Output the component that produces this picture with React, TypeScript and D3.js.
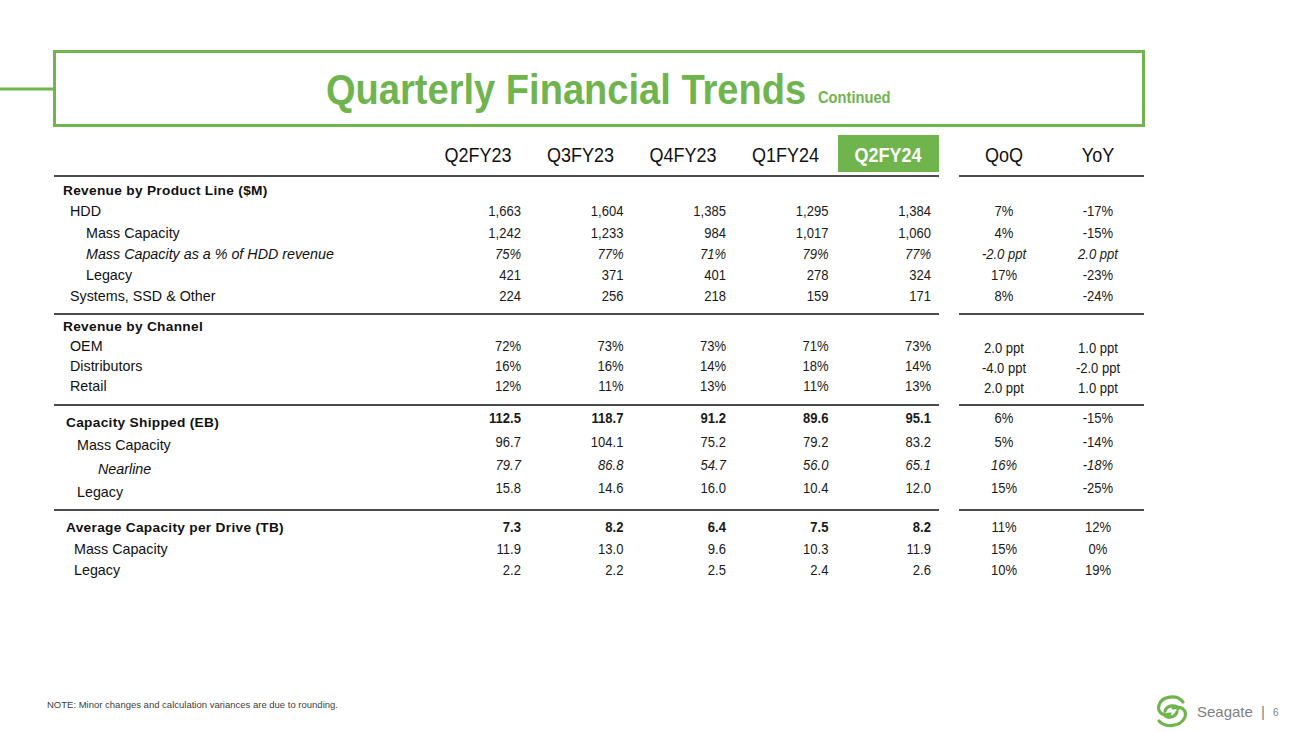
import React from "react";
import * as d3 from "d3";

// ---------- DATA ----------
const quarters = ["Q2FY23", "Q3FY23", "Q4FY23", "Q1FY24", "Q2FY24"];
const changeHeaders = ["QoQ", "YoY"];
const highlightQuarter = "Q2FY24";

// Revenue by Product Line ($M)
const hddRevenue = [1663, 1604, 1385, 1295, 1384];
const hddRevenueChange = [7, -17];
const massCapRevenue = [1242, 1233, 984, 1017, 1060];
const massCapRevenueChange = [4, -15];
const massCapShare = [75, 77, 71, 79, 77];
const massCapShareChange = [-2.0, 2.0];
const legacyRevenue = [421, 371, 401, 278, 324];
const legacyRevenueChange = [17, -23];
const systemsRevenue = [224, 256, 218, 159, 171];
const systemsRevenueChange = [8, -24];

// Revenue by Channel (%)
const oemShare = [72, 73, 73, 71, 73];
const oemShareChange = [2.0, 1.0];
const distributorShare = [16, 16, 14, 18, 14];
const distributorShareChange = [-4.0, -2.0];
const retailShare = [12, 11, 13, 11, 13];
const retailShareChange = [2.0, 1.0];

// Capacity Shipped (EB)
const capacityShipped = [112.5, 118.7, 91.2, 89.6, 95.1];
const capacityShippedChange = [6, -15];
const massCapShipped = [96.7, 104.1, 75.2, 79.2, 83.2];
const massCapShippedChange = [5, -14];
const nearlineShipped = [79.7, 86.8, 54.7, 56.0, 65.1];
const nearlineShippedChange = [16, -18];
const legacyShipped = [15.8, 14.6, 16.0, 10.4, 12.0];
const legacyShippedChange = [15, -25];

// Average Capacity per Drive (TB)
const avgCapacity = [7.3, 8.2, 6.4, 7.5, 8.2];
const avgCapacityChange = [11, 12];
const massCapAvg = [11.9, 13.0, 9.6, 10.3, 11.9];
const massCapAvgChange = [15, 0];
const legacyAvg = [2.2, 2.2, 2.5, 2.4, 2.6];
const legacyAvgChange = [10, 19];

// ---------- FORMATS ----------
const hyphen = (s: string) => s.replace(/\u2212/g, "-");
const fmtInt = (v: number) => hyphen(d3.format(",")(v));
const fmtDec = (v: number) => hyphen(d3.format(".1f")(v));
const fmtPct = (v: number) => `${hyphen(d3.format("d")(v))}%`;
const fmtPpt = (v: number) => `${fmtDec(v)} ppt`;

type Row = {
  label: string;
  values?: number[];
  changes?: number[];
  fmt?: (v: number) => string;
  cfmt?: (v: number) => string;
  level: number; // indentation class
  italic?: boolean;
  bold?: boolean;
};

type Section = { rows: Row[] };

const sections: Section[] = [
  {
    rows: [
      { label: "Revenue by Product Line ($M)", level: 0, bold: true },
      { label: "HDD", values: hddRevenue, changes: hddRevenueChange, fmt: fmtInt, cfmt: fmtPct, level: 1 },
      { label: "Mass Capacity", values: massCapRevenue, changes: massCapRevenueChange, fmt: fmtInt, cfmt: fmtPct, level: 2 },
      { label: "Mass Capacity as a % of HDD revenue", values: massCapShare, changes: massCapShareChange, fmt: fmtPct, cfmt: fmtPpt, level: 2, italic: true },
      { label: "Legacy", values: legacyRevenue, changes: legacyRevenueChange, fmt: fmtInt, cfmt: fmtPct, level: 2 },
      { label: "Systems, SSD & Other", values: systemsRevenue, changes: systemsRevenueChange, fmt: fmtInt, cfmt: fmtPct, level: 1 },
    ],
  },
  {
    rows: [
      { label: "Revenue by Channel", level: 0, bold: true },
      { label: "OEM", values: oemShare, changes: oemShareChange, fmt: fmtPct, cfmt: fmtPpt, level: 1 },
      { label: "Distributors", values: distributorShare, changes: distributorShareChange, fmt: fmtPct, cfmt: fmtPpt, level: 1 },
      { label: "Retail", values: retailShare, changes: retailShareChange, fmt: fmtPct, cfmt: fmtPpt, level: 1 },
    ],
  },
  {
    rows: [
      { label: "Capacity Shipped (EB)", values: capacityShipped, changes: capacityShippedChange, fmt: fmtDec, cfmt: fmtPct, level: 3, bold: true },
      { label: "Mass Capacity", values: massCapShipped, changes: massCapShippedChange, fmt: fmtDec, cfmt: fmtPct, level: 4 },
      { label: "Nearline", values: nearlineShipped, changes: nearlineShippedChange, fmt: fmtDec, cfmt: fmtPct, level: 5, italic: true },
      { label: "Legacy", values: legacyShipped, changes: legacyShippedChange, fmt: fmtDec, cfmt: fmtPct, level: 4 },
    ],
  },
  {
    rows: [
      { label: "Average Capacity per Drive (TB)", values: avgCapacity, changes: avgCapacityChange, fmt: fmtDec, cfmt: fmtPct, level: 3, bold: true },
      { label: "Mass Capacity", values: massCapAvg, changes: massCapAvgChange, fmt: fmtDec, cfmt: fmtPct, level: 6 },
      { label: "Legacy", values: legacyAvg, changes: legacyAvgChange, fmt: fmtDec, cfmt: fmtPct, level: 6 },
    ],
  },
];

// ---------- LAYOUT ----------
const W = 1300;
const H = 732;
const GREEN = "#70b44e";
const FONT = "'Liberation Sans', Arial, Helvetica, sans-serif";
const indentX = [63, 70, 86, 66, 77, 98, 74];
const sectionLayout = [
  { y0: 190, pitch: 21.2, labelDy: 0, changeDy: 0 },
  { y0: 326, pitch: 20, labelDy: 0, changeDy: 2 },
  { y0: 418, pitch: 23.3, labelDy: 4, changeDy: 0 },
  { y0: 527, pitch: 21.5, labelDy: 0, changeDy: 0 },
];
const rulesY = [176, 314, 405, 510];
const SX = 0.9; // horizontal condensing of the numeric text

const colRight = d3.scalePoint<string>().domain(quarters).range([521, 931]);
const chgCenter = d3.scalePoint<string>().domain(changeHeaders).range([1004, 1098]);

function CText(props: {
  x: number;
  y: number;
  anchor: "start" | "middle" | "end";
  size: number;
  children: React.ReactNode;
  weight?: string | number;
  italic?: boolean;
  fill?: string;
  sx?: number;
}) {
  const { x, y, anchor, size, children, weight, italic, fill, sx = SX } = props;
  return (
    <text
      transform={`translate(${x},${y}) scale(${sx},1)`}
      textAnchor={anchor}
      dy="0.36em"
      fontSize={size}
      fontWeight={weight ?? "normal"}
      fontStyle={italic ? "italic" : "normal"}
      fill={fill ?? "#111"}
    >
      {children}
    </text>
  );
}

export default function App() {
  return (
    <svg
      width={W}
      height={H}
      viewBox={`0 0 ${W} ${H}`}
      style={{ position: "absolute", left: 0, top: 0, display: "block", background: "#fff" }}
      fontFamily={FONT}
    >
      <rect x={0} y={0} width={W} height={H} fill="#fff" />

      {/* Title frame */}
      <line x1={0} x2={54} y1={89} y2={89} stroke={GREEN} strokeWidth={3} />
      <rect x={54.5} y={51.5} width={1089} height={74} fill="none" stroke={GREEN} strokeWidth={3} />
      <text transform={`translate(326,104) scale(0.9,1)`} fontSize={42.3} fontWeight="bold" fill={GREEN}>
        Quarterly Financial Trends
      </text>
      <text transform={`translate(818,103) scale(0.9,1)`} fontSize={16.3} fontWeight="bold" fill={GREEN}>
        Continued
      </text>

      {/* Column headers */}
      {quarters.map((q) => {
        const cx = (colRight(q) as number) - 43;
        const hl = q === highlightQuarter;
        return (
          <g key={q}>
            {hl && <rect x={cx - 50} y={135} width={101} height={37} fill={GREEN} />}
            <CText x={cx} y={155} anchor="middle" size={20} weight={hl ? "bold" : "normal"} fill={hl ? "#fff" : "#111"}>
              {q}
            </CText>
          </g>
        );
      })}
      {changeHeaders.map((c) => (
        <CText key={c} x={chgCenter(c) as number} y={155} anchor="middle" size={20}>
          {c}
        </CText>
      ))}

      {/* Horizontal rules */}
      {rulesY.map((y) => (
        <g key={y}>
          <line x1={54} x2={939} y1={y} y2={y} stroke="#111" strokeWidth={1.3} />
          <line x1={959} x2={1144} y1={y} y2={y} stroke="#111" strokeWidth={1.3} />
        </g>
      ))}

      {/* Table body */}
      {sections.map((sec, si) => {
        const lay = sectionLayout[si];
        return (
          <g key={si}>
            {sec.rows.map((r, ri) => {
              const y = lay.y0 + ri * lay.pitch;
              return (
                <g key={ri}>
                  <text
                    x={indentX[r.level]}
                    y={y + lay.labelDy}
                    dy="0.36em"
                    fontSize={r.bold ? 13.7 : 14.3}
                    fontWeight={r.bold ? "bold" : "normal"}
                    fontStyle={r.italic ? "italic" : "normal"}
                    letterSpacing={r.bold ? 0.3 : 0}
                    fill="#111"
                  >
                    {r.label}
                  </text>
                  {r.values &&
                    r.values.map((v, vi) => (
                      <CText
                        key={vi}
                        x={colRight(quarters[vi]) as number}
                        y={y}
                        anchor="end"
                        size={14.5}
                        weight={r.bold ? "bold" : "normal"}
                        italic={r.italic}
                        fill="#1a1a1a"
                      >
                        {r.fmt!(v)}
                      </CText>
                    ))}
                  {r.changes &&
                    r.changes.map((v, ci) => (
                      <CText
                        key={ci}
                        x={chgCenter(changeHeaders[ci]) as number}
                        y={y + lay.changeDy}
                        anchor="middle"
                        size={14.5}
                        italic={r.italic}
                        fill="#1a1a1a"
                      >
                        {r.cfmt!(v)}
                      </CText>
                    ))}
                </g>
              );
            })}
          </g>
        );
      })}

      {/* Footer note */}
      <text x={47} y={705} dy="0.35em" fontSize={9.5} fill="#404040">
        NOTE: Minor changes and calculation variances are due to rounding.
      </text>

      {/* Logo */}
      <g fill="none" stroke={GREEN} strokeWidth={3.2} strokeLinecap="round">
        <path d="M1183,702 C1177,694 1162,696 1159,705 C1157,712 1163,717 1170,714" />
        <path d="M1159,721 C1165,728 1181,727 1185,717 C1187,710 1181,705 1173,708" />
        <path d="M1165,711 C1167,705 1176,704 1178,709" />
        <path d="M1177,712 C1175,718 1166,719 1164,714" />
      </g>
      <text x={1197} y={712} dy="0.35em" fontSize={15} fill="#7f7f7f">
        Seagate
      </text>
      <text x={1261} y={712} dy="0.35em" fontSize={15} fill="#7f7f7f">
        |
      </text>
      <text x={1273} y={712} dy="0.35em" fontSize={10} fill="#7f7f7f">
        6
      </text>
    </svg>
  );
}
